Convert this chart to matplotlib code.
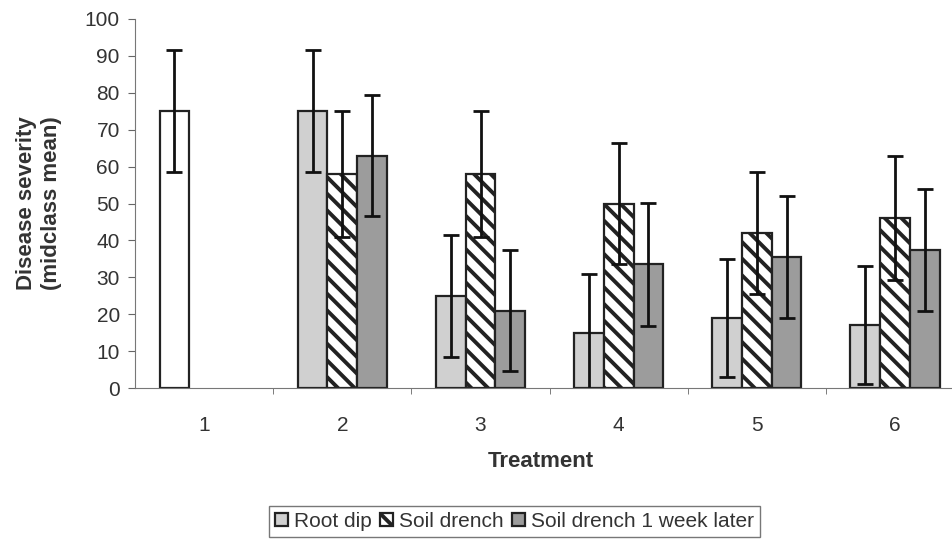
import numpy as np
import matplotlib.pyplot as plt

plt.rcParams['font.family'] = ['Liberation Sans', 'DejaVu Sans']
plt.rcParams['hatch.linewidth'] = 2.8

# datos
tratamientos = ['1', '2', '3', '4', '5', '6']
control = [75, 0, 0, 0, 0, 0]
control_err = [16.5, 0, 0, 0, 0, 0]
root_dip = [0, 75, 25, 15, 19, 17]
root_dip_err = [0, 16.5, 16.5, 16, 16, 16]
soil_drench = [0, 58, 58, 50, 42, 46]
soil_drench_err = [0, 17, 17, 16.5, 16.5, 16.8]
soil_drench_1w = [0, 63, 21, 33.5, 35.5, 37.5]
soil_drench_1w_err = [0, 16.5, 16.5, 16.7, 16.5, 16.5]

x = np.arange(len(tratamientos))
w = 0.215

fig = plt.figure(figsize=(9.53, 5.42), dpi=100)
ax = fig.add_axes([0.1417, 0.284, 0.87, 0.681])

err_kw = dict(ecolor='#111111', elinewidth=2, capsize=6, capthick=2)

m = np.array(control) > 0
ax.bar(x[m] - w, np.array(control)[m], w, yerr=np.array(control_err)[m],
       color='white', edgecolor='#222222', linewidth=1.6, error_kw=err_kw)

m = np.array(root_dip) > 0
ax.bar(x[m] - w, np.array(root_dip)[m], w, yerr=np.array(root_dip_err)[m],
       color='#d0d0d0', edgecolor='#222222', linewidth=1.6,
       label='Root dip', error_kw=err_kw)
ax.bar(x[m], np.array(soil_drench)[m], w, yerr=np.array(soil_drench_err)[m],
       color='white', edgecolor='#222222', linewidth=1.6, hatch='\\\\',
       label='Soil drench', error_kw=err_kw)
ax.bar(x[m] + w, np.array(soil_drench_1w)[m], w, yerr=np.array(soil_drench_1w_err)[m],
       color='#9c9c9c', edgecolor='#222222', linewidth=1.6,
       label='Soil drench 1 week later', error_kw=err_kw)

ax.set_xlim(-0.5, len(tratamientos) - 0.5)
ax.set_ylim(0, 100)
ax.set_yticks(range(0, 101, 10))
ax.set_xticks(x)
ax.set_xticklabels(tratamientos)
ax.set_xticks(np.arange(0.5, len(tratamientos) - 0.5, 1), minor=True)
ax.tick_params(axis='x', which='major', length=0, pad=20, labelsize=15, labelcolor='#333333')
ax.tick_params(axis='x', which='minor', length=4, color='#666666', direction='out')
ax.tick_params(axis='y', length=5, pad=6, color='#666666', labelsize=15, labelcolor='#333333')

for s in ['top', 'right']:
    ax.spines[s].set_visible(False)
ax.spines['left'].set_color('#777777')
ax.spines['bottom'].set_color('#777777')

ax.set_xlabel('Treatment', fontsize=16, fontweight='bold', color='#333333', labelpad=12)
ax.xaxis.set_label_coords(0.489, -0.17)
ax.set_ylabel('Disease severity\n(midclass mean)', fontsize=16, fontweight='bold',
              color='#333333', labelpad=16, linespacing=1.3)

fig.legend(loc='center', bbox_to_anchor=(0.54, 0.038), ncol=3, fontsize=15,
           frameon=True, fancybox=False, edgecolor='#555555', handlelength=0.6,
           handleheight=0.6, handletextpad=0.3, columnspacing=0.4,
           borderpad=0.3, labelcolor='#333333')

fig.savefig('out.png', dpi=100)
